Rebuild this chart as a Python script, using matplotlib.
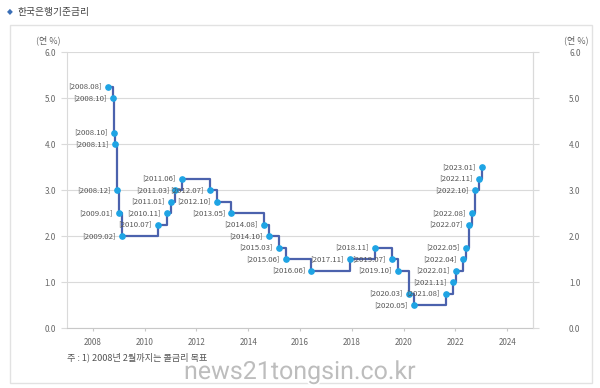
import pandas as pd
import matplotlib
matplotlib.use('Agg')
import matplotlib.pyplot as plt
import matplotlib.patheffects as pe
from matplotlib.patches import Rectangle

plt.rcParams['font.family'] = ['Noto Sans CJK KR', 'DejaVu Sans']

# 기준금리 변경일과 금리 (연 %)
dates = ['2008-08-07', '2008-10-09', '2008-10-27', '2008-11-07', '2008-12-11',
         '2009-01-09', '2009-02-12', '2010-07-09', '2010-11-16', '2011-01-13',
         '2011-03-10', '2011-06-10', '2012-07-12', '2012-10-11', '2013-05-09',
         '2014-08-14', '2014-10-15', '2015-03-12', '2015-06-11', '2016-06-09',
         '2017-11-30', '2018-11-30', '2019-07-18', '2019-10-16', '2020-03-17',
         '2020-05-28', '2021-08-26', '2021-11-25', '2022-01-14', '2022-04-14',
         '2022-05-26', '2022-07-13', '2022-08-25', '2022-10-12', '2022-11-24',
         '2023-01-13']
rates = [5.25, 5.00, 4.25, 4.00, 3.00, 2.50, 2.00, 2.25, 2.50, 2.75,
         3.00, 3.25, 3.00, 2.75, 2.50, 2.25, 2.00, 1.75, 1.50, 1.25,
         1.50, 1.75, 1.50, 1.25, 0.75, 0.50, 0.75, 1.00, 1.25, 1.50,
         1.75, 2.25, 2.50, 3.00, 3.25, 3.50]
x_ticks = [2008, 2010, 2012, 2014, 2016, 2018, 2020, 2022, 2024]
y_ticks = [0, 1, 2, 3, 4, 5, 6]

d = pd.to_datetime(pd.Series(dates))
days = d.dt.is_leap_year.map({True: 366, False: 365})
xdec = d.dt.year + (d.dt.dayofyear - 1) / days
labels = ['[' + s.strftime('%Y.%m') + ']' for s in d]

W, H = 600, 388
fig = plt.figure(figsize=(6, 3.88), dpi=100)

def fx(px):
    return px / W

def fy(py):
    return 1 - py / H

# 바깥 테두리
fig.patches.append(Rectangle((fx(10), fy(383)), fx(582), (383 - 25) / H,
                             transform=fig.transFigure, fill=False,
                             edgecolor='#e2e2e2', linewidth=1))

ax = fig.add_axes([fx(67), fy(328), fx(533) - fx(67), (328 - 52) / H])
grid_c = '#dadada'
line_c = '#4b62ad'
dot_c = '#1ea4e4'

ax.step(xdec, rates, where='post', color=line_c, linewidth=1.6, zorder=2)
ax.plot(xdec, rates, 'o', color=dot_c, markersize=3.8, zorder=3)
for xv, yv, lab in zip(xdec, rates, labels):
    ax.annotate(lab, (xv, yv), xytext=(-4.5, 0), textcoords='offset points',
                ha='right', va='center', fontsize=5.6, color='#555555', zorder=4)

ax.set_xlim(2007, 2025)
ax.set_ylim(0, 6)
ax.set_xticks(x_ticks)
ax.set_yticks(y_ticks)
ax.set_yticklabels([f'{v:.1f}' for v in y_ticks])
ax.grid(axis='y', color=grid_c, linewidth=0.8)
ax.set_axisbelow(True)
ax.spines['top'].set_visible(False)
for s in ['left', 'right']:
    ax.spines[s].set_color(grid_c)
    ax.spines[s].set_linewidth(0.8)
ax.spines['bottom'].set_color('#c8c8c8')
ax.spines['bottom'].set_linewidth(0.8)
ax.tick_params(axis='y', length=4, color=grid_c, width=0.8, pad=4,
               labelsize=5.8, labelcolor='#666666')
ax.tick_params(axis='x', length=2.5, color='#c8c8c8', width=0.8, pad=5,
               labelsize=5.8, labelcolor='#666666')

ax2 = ax.twinx()
ax2.set_ylim(0, 6)
ax2.set_yticks(y_ticks)
ax2.set_yticklabels([f'{v:.1f}' for v in y_ticks])
ax2.tick_params(axis='y', length=4, color=grid_c, width=0.8, pad=22,
                labelsize=5.8, labelcolor='#666666')
for s in ['top', 'left', 'bottom']:
    ax2.spines[s].set_visible(False)
ax2.spines['right'].set_color(grid_c)
ax2.spines['right'].set_linewidth(0.8)

# 단위 표시
fig.text(fx(48), fy(40), '(연 %)', ha='center', va='center', fontsize=6.5, color='#666666')
fig.text(fx(576), fy(40), '(연 %)', ha='center', va='center', fontsize=6.5, color='#666666')

# 제목
fig.text(fx(10), fy(12), '◆', ha='center', va='center', fontsize=5.5, color='#3b6fb6',
         family=['DejaVu Sans'])
fig.text(fx(18), fy(12), '한국은행기준금리', ha='left', va='center', fontsize=7,
         color='#444444')

# 주석
fig.text(fx(67), fy(357), '주 : 1) 2008년 2월까지는 콜금리 목표', ha='left', va='center',
         fontsize=6.6, color='#555555')

# 워터마크
fig.text(fx(184), fy(379), 'news21tongsin.co.kr', ha='left', va='baseline',
         fontsize=18, color='#bdbdbd', family=['Roboto', 'DejaVu Sans'],
         path_effects=[pe.withStroke(linewidth=2.5, foreground='white')])

fig.savefig('out.png', dpi=100)
